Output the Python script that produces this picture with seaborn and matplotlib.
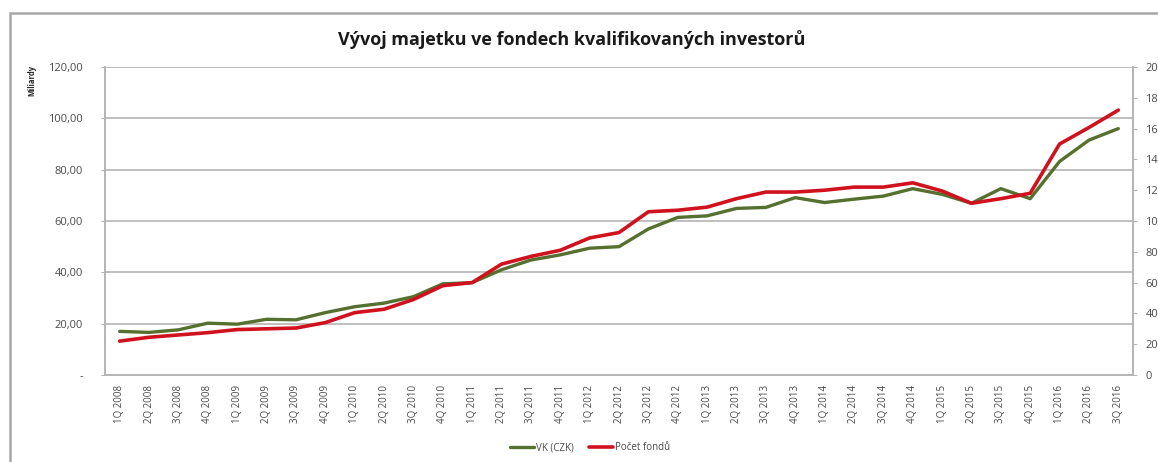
import numpy as np
import pandas as pd
import seaborn as sns
import matplotlib.pyplot as plt
from matplotlib.patches import Rectangle
from matplotlib.lines import Line2D

# quarters 1Q 2008 .. 3Q 2016
quarters = [f"{q}Q {y}" for y in range(2008, 2017) for q in range(1, 5)][:35]

# VK (CZK), billions - left axis
vk_czk = [17.0, 16.6, 17.6, 20.2, 19.8, 21.7, 21.5, 24.3, 26.6, 28.0,
          30.5, 35.5, 36.0, 41.0, 44.8, 46.8, 49.4, 50.0, 56.9, 61.4,
          62.0, 64.9, 65.3, 69.1, 67.2, 68.5, 69.7, 72.6, 70.4, 66.9,
          72.6, 68.7, 83.2, 91.5, 96.0]

# Počet fondů - right axis
pocet_fondu = [22, 24.5, 26, 27.5, 29.5, 30, 30.5, 34, 40.5, 42.7,
               49, 58, 60, 72, 77, 81, 89, 92.5, 106, 107,
               109, 114.5, 118.8, 118.8, 120, 122, 122, 124.8, 119.5, 111.5,
               114.5, 118, 150, 160.7, 172]

left_ticks = [0, 20, 40, 60, 80, 100, 120]
right_ticks = [0, 20, 40, 60, 80, 100, 120, 140, 160, 180, 200]

green = "#55702f"
red = "#d0121e"
grid_col = "#b4b4b4"
txt_col = "#4a4a4a"

df = pd.DataFrame({"x": np.arange(len(quarters)), "vk": vk_czk, "pocet": pocet_fondu})

sns.set_style("white")
plt.rcParams['font.family'] = ['Open Sans', 'DejaVu Sans']

fig = plt.figure(figsize=(11.58, 4.62), dpi=100)
ax = fig.add_axes([105/1158, 87/462, 1028/1158, 308/462])
ax2 = ax.twinx()

sns.lineplot(data=df, x="x", y="vk", ax=ax, color=green, linewidth=2.4, zorder=3)
sns.lineplot(data=df, x="x", y="pocet", ax=ax2, color=red, linewidth=2.6, zorder=3)

ax.set_xlim(-0.5, len(quarters) - 0.5)
ax.set_ylim(0, 120)
ax2.set_ylim(0, 200)

ax.set_yticks(left_ticks)
ax.set_yticklabels(["-"] + [f"{v:.2f}".replace(".", ",") for v in left_ticks[1:]])
ax2.set_yticks(right_ticks)
ax2.set_yticklabels([str(v) for v in right_ticks])

ax.set_xticks(np.arange(len(quarters)))
ax.set_xticklabels(quarters, rotation=90)
ax.set_xticks(np.arange(len(quarters) + 1) - 0.5, minor=True)
ax.tick_params(axis="x", which="major", length=0, pad=7, labelsize=7, colors=txt_col)
ax.tick_params(axis="x", which="minor", length=3, color=grid_col, direction="out")
ax.tick_params(axis="y", length=3, color=grid_col, labelsize=8, colors=txt_col, pad=13)
ax2.tick_params(axis="y", length=3, color=grid_col, labelsize=8, colors=txt_col, pad=6)

ax.yaxis.grid(True, color=grid_col, linewidth=1.2)
ax.set_axisbelow(True)
ax.set_xlabel("")
ax.set_ylabel("")
ax2.set_ylabel("")

for a in (ax, ax2):
    for s in a.spines.values():
        s.set_color(grid_col)
        s.set_linewidth(1.2)
    a.spines["top"].set_visible(False)

fig.text(32/1158, 1 - 80/462, "Miliardy", rotation=90, fontsize=5.5, fontweight="bold",
         ha="center", va="center")
fig.text(572/1158, 1 - 40/462, "Vývoj majetku ve fondech kvalifikovaných investorů",
         fontsize=13, fontweight="bold", ha="center", va="center", color="#1a1a1a")

# chart area border
fig.patches.append(Rectangle((10/1158, -0.1), 1.2, 1 - 13/462 + 0.1, transform=fig.transFigure,
                             fill=False, edgecolor="#a8a8a8", linewidth=1.8))

handles = [Line2D([], [], color=green, linewidth=2.4), Line2D([], [], color=red, linewidth=2.6)]
fig.legend(handles, ["VK (CZK)", "Počet fondů"], loc="center", bbox_to_anchor=(590/1158, 1 - 448/462),
           ncol=2, frameon=False, fontsize=7, handlelength=2.5, handletextpad=0.2,
           columnspacing=1.5, labelcolor=txt_col)

fig.savefig("out.png", dpi=100)
